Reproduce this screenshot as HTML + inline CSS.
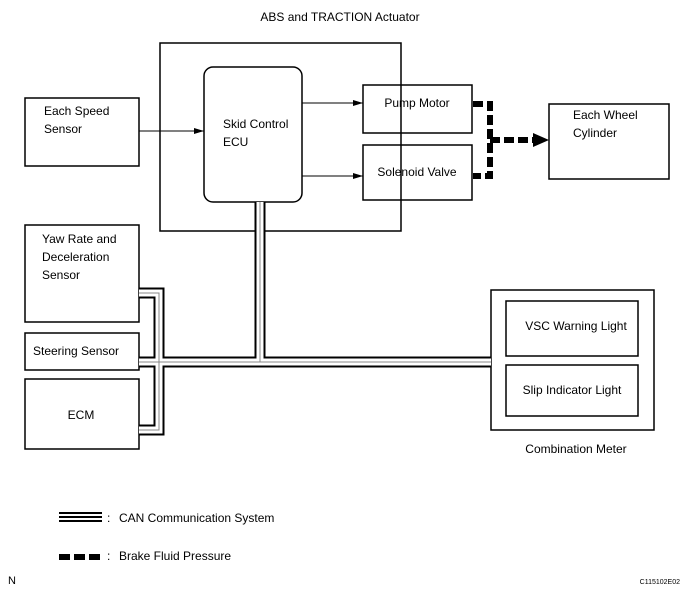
<!DOCTYPE html>
<html><head><meta charset="utf-8"><style>
html,body{margin:0;padding:0;background:#fff;}
svg{display:block;font-family:"Liberation Sans",Arial,sans-serif;}
</style></head><body>
<svg width="689" height="608" viewBox="0 0 689 608" xmlns="http://www.w3.org/2000/svg">
<defs>
<marker id="ar" markerWidth="10" markerHeight="8" refX="10" refY="4" orient="auto" markerUnits="userSpaceOnUse">
<path d="M0,1 L10,4 L0,7 Z" fill="#000"/></marker>
</defs>
<g fill="#000" font-size="12">
<text x="340" y="21" text-anchor="middle">ABS and TRACTION Actuator</text>
</g>
<g fill="none" stroke="#000" stroke-width="1.5">
<rect x="160" y="43" width="241" height="188"/>
<rect x="204" y="67" width="98" height="135" rx="9"/>
<rect x="363" y="85" width="109" height="48"/>
<rect x="363" y="145" width="109" height="55"/>
<rect x="549" y="104" width="120" height="75"/>
<rect x="25" y="98" width="114" height="68"/>
<rect x="25" y="225" width="114" height="97"/>
<rect x="25" y="333" width="114" height="37"/>
<rect x="25" y="379" width="114" height="70"/>
<rect x="491" y="290" width="163" height="140"/>
<rect x="506" y="301" width="132" height="55"/>
<rect x="506" y="365" width="132" height="51"/>
</g>
<g stroke="#000" stroke-width="1">
<line x1="139" y1="131" x2="204" y2="131" marker-end="url(#ar)"/>
<line x1="302" y1="103" x2="363" y2="103" marker-end="url(#ar)"/>
<line x1="302" y1="176" x2="363" y2="176" marker-end="url(#ar)"/>
</g>
<!-- hydraulic -->
<g fill="none" stroke="#000" stroke-width="6" stroke-dasharray="10,4">
<path d="M473,104 H490 V176 H473"/>
<path d="M490,140 H536"/>
</g>
<path d="M533,133 L549,140 L533,147 Z" fill="#000"/>
<!-- CAN bus -->
<g fill="none" stroke-linejoin="miter">
<path d="M260,202 V362 M139,293 H159 V430 H139 M139,362 H491" stroke="#000" stroke-width="11"/>
<path d="M260,202 V362 M139,293 H159 V430 H139 M139,362 H491" stroke="#fff" stroke-width="7"/>
<path d="M260,202 V362 M139,293 H159 V430 H139 M139,362 H491" stroke="#888" stroke-width="1"/>
</g>
<g fill="#000" font-size="12">
<text x="44" y="115">Each Speed</text>
<text x="44" y="133">Sensor</text>
<text x="223" y="128">Skid Control</text>
<text x="223" y="146">ECU</text>
<text x="417" y="107" text-anchor="middle">Pump Motor</text>
<text x="417" y="176" text-anchor="middle">Solenoid Valve</text>
<text x="573" y="119">Each Wheel</text>
<text x="573" y="137">Cylinder</text>
<text x="42" y="243">Yaw Rate and</text>
<text x="42" y="261">Deceleration</text>
<text x="42" y="279">Sensor</text>
<text x="33" y="355">Steering Sensor</text>
<text x="81" y="419" text-anchor="middle">ECM</text>
<text x="576" y="330" text-anchor="middle">VSC Warning Light</text>
<text x="572" y="394" text-anchor="middle">Slip Indicator Light</text>
<text x="576" y="453" text-anchor="middle">Combination Meter</text>
<text x="107" y="522">:</text>
<text x="119" y="522">CAN Communication System</text>
<text x="107" y="560">:</text>
<text x="119" y="560">Brake Fluid Pressure</text>
<text x="8" y="584" font-size="11">N</text>
<text x="680" y="584" font-size="7" text-anchor="end">C115102E02</text>
</g>
<g stroke="#000" stroke-width="2">
<line x1="59" y1="513" x2="102" y2="513"/>
<line x1="59" y1="517" x2="102" y2="517"/>
<line x1="59" y1="521" x2="102" y2="521"/>
</g>
<g fill="none" stroke="#000" stroke-width="6" stroke-dasharray="11,4">
<path d="M59,557 H102"/>
</g>
</svg>
</body></html>
